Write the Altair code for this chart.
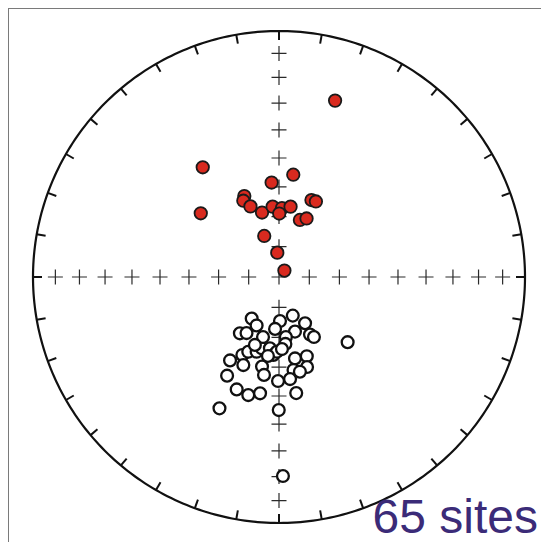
import altair as alt
import numpy as np
import pandas as pd

# ---- data (normalised equal-area coordinates: east, north; unit = primitive circle) ----
red_e = [0.228, -0.310, -0.318, 0.058, -0.030, -0.141, -0.145, -0.116, -0.069, -0.026,
         0.012, 0.047, 0.001, 0.132, 0.150, 0.085, 0.112, -0.060, -0.007, 0.022]
red_n = [0.717, 0.446, 0.259, 0.416, 0.384, 0.329, 0.310, 0.287, 0.262, 0.286,
         0.280, 0.286, 0.258, 0.313, 0.307, 0.232, 0.238, 0.167, 0.099, 0.026]

white_e = [-0.111, -0.091, -0.159, -0.132, 0.004, 0.056, -0.016, 0.106, 0.126, 0.142,
           0.065, 0.028, 0.026, 0.279, -0.199, -0.149, -0.125, -0.091, -0.070, -0.037,
           -0.023, -0.009, 0.065, 0.113, -0.145, -0.211, -0.069, -0.061, 0.114, 0.059,
           0.085, 0.045, -0.004, -0.172, -0.125, -0.077, 0.070, -0.242, -0.001, 0.016,
           -0.065, -0.098, -0.045, 0.012]
white_n = [-0.169, -0.197, -0.229, -0.228, -0.179, -0.157, -0.211, -0.188, -0.234, -0.244,
           -0.222, -0.244, -0.272, -0.265, -0.339, -0.317, -0.304, -0.304, -0.290, -0.290,
           -0.317, -0.304, -0.331, -0.322, -0.358, -0.401, -0.364, -0.398, -0.366, -0.378,
           -0.385, -0.415, -0.423, -0.457, -0.480, -0.473, -0.472, -0.534, -0.541, -0.809,
           -0.244, -0.276, -0.321, -0.293]

cross_incs = [10, 20, 30, 40, 50, 60, 70, 80]
tick_decs = list(range(0, 360, 10))
label_text = ["65 sites"]

# ---- layout ----
R_PX = 246.0
W, H = 533, 534
CX, CY = 271.0, 269.0
xdom = [-CX / R_PX, (W - CX) / R_PX]
ydom = [-(H - CY) / R_PX, CY / R_PX]
xs = alt.Scale(domain=xdom, nice=False, zero=False)
ys = alt.Scale(domain=ydom, nice=False, zero=False)

def X(f="x"):
    return alt.X(f"{f}:Q", scale=xs, axis=None)

def Y(f="y"):
    return alt.Y(f"{f}:Q", scale=ys, axis=None)

# primitive circle
ang = np.arange(0, 361, 1)
circ = pd.DataFrame({"x": np.sin(np.radians(ang)), "y": np.cos(np.radians(ang)), "o": ang})
circle = alt.Chart(circ).mark_line(color="#111", strokeWidth=2.2).encode(
    x=X(), y=Y(), order="o:Q")

# declination ticks
tl = 1 - 9 / R_PX
tk = pd.DataFrame({
    "x": [np.sin(np.radians(d)) for d in tick_decs],
    "y": [np.cos(np.radians(d)) for d in tick_decs],
    "x2": [tl * np.sin(np.radians(d)) for d in tick_decs],
    "y2": [tl * np.cos(np.radians(d)) for d in tick_decs],
})
ticks = alt.Chart(tk).mark_rule(color="#111", strokeWidth=2).encode(
    x=X(), y=Y(), x2="x2:Q", y2="y2:Q")

# inclination crosses along the axes
rows = [{"x": 0.0, "y": 0.0}]
for inc in cross_incs:
    r = np.sqrt(2) * np.sin(np.radians((90 - inc) / 2))
    rows += [{"x": r, "y": 0.0}, {"x": -r, "y": 0.0}, {"x": 0.0, "y": r}, {"x": 0.0, "y": -r}]
crosses = alt.Chart(pd.DataFrame(rows)).mark_point(
    shape="M-1,0L1,0M0,-1L0,1", size=225, filled=False, color="#2a2a2a", strokeWidth=1.2, opacity=1
).encode(x=X(), y=Y())

white = alt.Chart(pd.DataFrame({"x": white_e, "y": white_n})).mark_point(
    shape="circle", filled=True, fill="white", stroke="#111", strokeWidth=2.3, size=140, opacity=1
).encode(x=X(), y=Y())

red = alt.Chart(pd.DataFrame({"x": red_e, "y": red_n})).mark_point(
    shape="circle", filled=True, fill="#d92a1f", stroke="#1a1a1a", strokeWidth=1.8, size=155, opacity=1
).encode(x=X(), y=Y())

label = alt.Chart(pd.DataFrame({"t": label_text})).mark_text(
    fontSize=48, font="Liberation Sans", color="#3b2b78", align="right", baseline="alphabetic"
).encode(text="t:N", x=alt.value(530), y=alt.value(525))

frame_l = alt.Chart(pd.DataFrame({"a": [0]})).mark_rule(color="#7a7a7a", strokeWidth=2).encode(
    x=alt.value(0), y=alt.value(0), y2=alt.value(H))
frame_t = alt.Chart(pd.DataFrame({"a": [0]})).mark_rule(color="#7a7a7a", strokeWidth=2).encode(
    y=alt.value(0), x=alt.value(0), x2=alt.value(W))

chart = alt.layer(frame_l, frame_t, circle, ticks, crosses, white, red, label).properties(
    width=W, height=H, autosize=alt.AutoSizeParams(type="none"),
    padding={"left": 0, "top": 0, "right": 0, "bottom": 0}
).configure_view(stroke=None)

chart.save("out.html", embed_options={"renderer": "svg", "actions": False})
